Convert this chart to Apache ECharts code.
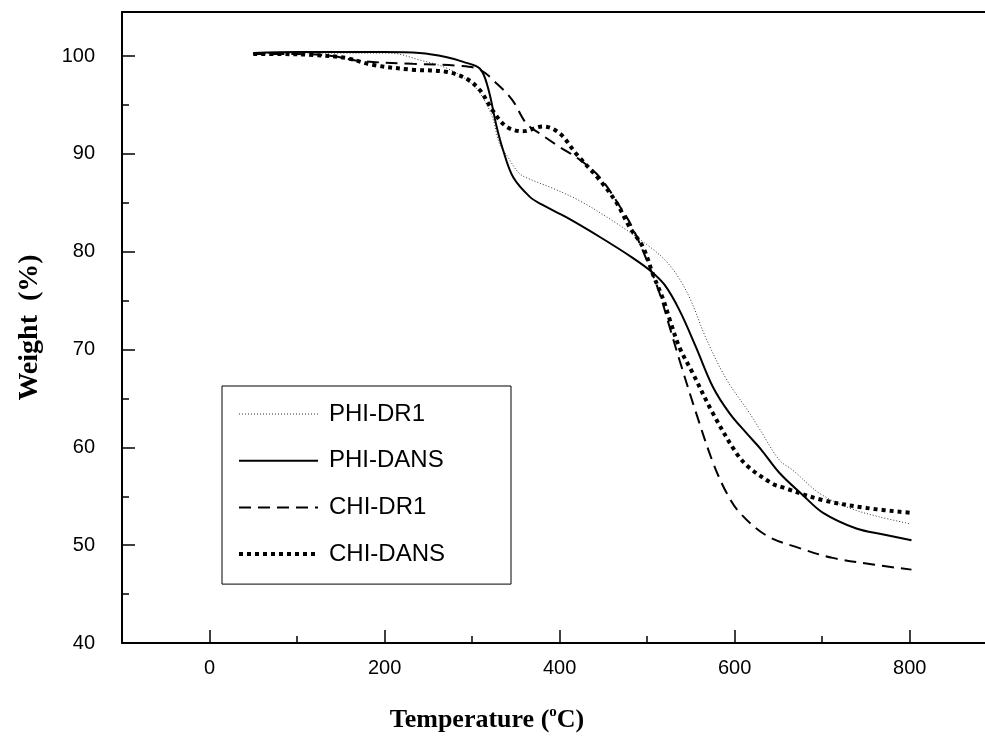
<!DOCTYPE html>
<html>
<head>
<meta charset="utf-8">
<script src="https://cdn.jsdelivr.net/npm/echarts@6/dist/echarts.min.js"></script>
<style>html,body{margin:0;padding:0;background:#fff}#c{width:985px;height:739px}</style>
</head>
<body>
<div id="c"></div>
<script>
// Tick values
const xMajorTicks = [0, 200, 400, 600, 800];
const xMinorTicks = [100, 300, 500, 700];
const yMajorTicks = [40, 50, 60, 70, 80, 90, 100];
const yMinorTicks = [45, 55, 65, 75, 85, 95];

const seriesNames = ['PHI-DR1', 'PHI-DANS', 'CHI-DR1', 'CHI-DANS'];

// [temperature (°C), weight (%)]
const phiDr1 = [[50,100.2],[100,100.3],[150,100.3],[206,100.3],[240,99.6],[270,98.8],[295,97.5],[309,96.2],[323,93.8],[331,91.1],[340,89.8],[354,88.0],[369,87.3],[389,86.6],[423,85.2],[465,82.9],[503,80.5],[522,79.0],[537,77.2],[550,75.0],[568,71.0],[591,66.9],[617,63.5],[629,61.8],[651,58.7],[666,57.7],[697,55.3],[731,53.8],[765,52.9],[800,52.2]];
const phiDans = [[50,100.3],[100,100.4],[150,100.4],[200,100.4],[240,100.3],[270,99.9],[290,99.4],[309,98.7],[318,96.8],[328,92.8],[335,90.5],[347,87.6],[366,85.6],[380,84.8],[408,83.5],[446,81.5],[483,79.4],[503,78.1],[520,76.6],[537,74.0],[556,70.2],[575,66.2],[594,63.5],[613,61.5],[630,59.8],[651,57.4],[678,55.1],[701,53.3],[739,51.7],[770,51.1],[802,50.5]];
const chiDr1 = [[50,100.2],[100,100.2],[140,100.0],[171,99.5],[232,99.2],[286,99.0],[309,98.6],[328,97.2],[346,95.5],[362,93.1],[377,92.1],[400,90.7],[423,89.4],[446,87.6],[469,84.6],[483,82.5],[503,78.4],[514,75.8],[525,72.5],[537,68.9],[556,63.5],[575,58.5],[591,55.3],[606,53.3],[636,51.0],[674,49.7],[712,48.7],[760,48.0],[802,47.5]];
const chiDans = [[50,100.2],[80,100.2],[120,100.1],[156,99.8],[186,99.1],[232,98.6],[270,98.4],[293,97.7],[309,96.5],[323,94.5],[339,92.8],[358,92.3],[381,92.8],[400,92.1],[419,90.0],[446,87.3],[465,85.0],[480,82.5],[495,80.5],[507,77.6],[518,75.2],[526,73.0],[537,70.2],[552,67.6],[575,63.5],[602,59.4],[617,57.9],[643,56.3],[655,55.9],[701,54.6],[751,53.8],[802,53.3]];

const sans = '"Liberation Sans", Arial, sans-serif';
const serif = '"Liberation Serif", "Times New Roman", serif';

const chart = echarts.init(document.getElementById('c'), null, {renderer: 'canvas'});

const X_MIN = -100, X_MAX = 886;

const styles = {
  'PHI-DR1': {color: '#333', width: 1, type: [1, 2]},
  'PHI-DANS': {color: '#000', width: 2, type: 'solid'},
  'CHI-DR1': {color: '#000', width: 2, type: [12, 7]},
  'CHI-DANS': {color: '#000', width: 4, type: [4, 4]}
};

function xAx(ticks, len, showLabel, showLine, pos) {
  return {
    type: 'value', min: X_MIN, max: X_MAX, gridIndex: 0, position: pos || 'bottom',
    axisLine: {show: showLine, onZero: false, lineStyle: {color: '#000', width: 2}},
    axisTick: {show: ticks.length > 0, inside: true, length: len, customValues: ticks, lineStyle: {color: '#000', width: 1.5}},
    axisLabel: {show: showLabel, customValues: xMajorTicks, fontSize: 20, color: '#000', fontFamily: sans, margin: 15},
    splitLine: {show: false}
  };
}
function yAx(ticks, len, showLabel, showLine, extra) {
  return Object.assign({
    type: 'value', min: 40, max: 104.5, gridIndex: 0, position: 'left',
    axisLine: {show: showLine, onZero: false, lineStyle: {color: '#000', width: 2}},
    axisTick: {show: true, inside: true, length: len, customValues: ticks, lineStyle: {color: '#000', width: 1.5}},
    axisLabel: {show: showLabel, customValues: yMajorTicks, fontSize: 20, color: '#000', fontFamily: sans, margin: 27},
    splitLine: {show: false}
  }, extra || {});
}

function mk(name, data) {
  const ls = styles[name];
  return {
    name: name, type: 'line', data: data, xAxisIndex: 0, yAxisIndex: 0,
    showSymbol: false, symbol: 'none', smooth: 0.35,
    lineStyle: ls, itemStyle: {color: ls.color}, animation: false
  };
}

chart.setOption({
  animation: false,
  backgroundColor: '#fff',
  grid: {left: 122, right: 0, top: 12, bottom: 96, show: false, containLabel: false},
  xAxis: [
    xAx(xMinorTicks, 7, true, true),
    xAx(xMajorTicks, 13, false, false),
    xAx([], 0, false, true, 'top')
  ],
  yAxis: [
    yAx(yMinorTicks, 7, true, true, {
      name: 'Weight  (%)', nameLocation: 'middle', nameGap: 78, nameRotate: 90,
      nameTextStyle: {fontFamily: serif, fontWeight: 'bold', fontSize: 28, color: '#000'}
    }),
    yAx(yMajorTicks, 13, false, false)
  ],
  legend: {
    orient: 'vertical', left: 222, top: 386,
    data: seriesNames.map(n => ({name: n, lineStyle: {width: styles[n].width, type: styles[n].type, color: styles[n].color}})),
    itemWidth: 79, itemHeight: 24, itemGap: 22.7,
    padding: [16, 66, 18, 15],
    borderColor: '#000', borderWidth: 1, backgroundColor: '#fff',
    itemStyle: {opacity: 0, borderWidth: 0, color: 'rgba(0,0,0,0)'},
    textStyle: {fontFamily: sans, fontSize: 24, color: '#000', lineHeight: 24, padding: [0, 0, 0, 6]},
    selectedMode: false
  },
  graphic: [{
    type: 'text', x: 487, y: 720,
    style: {
      text: '{a|Temperature (}{s|o}{a|C)}',
      textAlign: 'center', textVerticalAlign: 'middle',
      rich: {
        a: {fontFamily: serif, fontWeight: 'bold', fontSize: 26, fill: '#000', lineHeight: 30},
        s: {fontFamily: serif, fontWeight: 'bold', fontSize: 15, fill: '#000', verticalAlign: 'top', lineHeight: 30, padding: [0, 0, 10, 0]}
      }
    }
  }],
  series: [
    mk('PHI-DR1', phiDr1),
    mk('PHI-DANS', phiDans),
    mk('CHI-DR1', chiDr1),
    mk('CHI-DANS', chiDans)
  ]
});
</script>
</body>
</html>
